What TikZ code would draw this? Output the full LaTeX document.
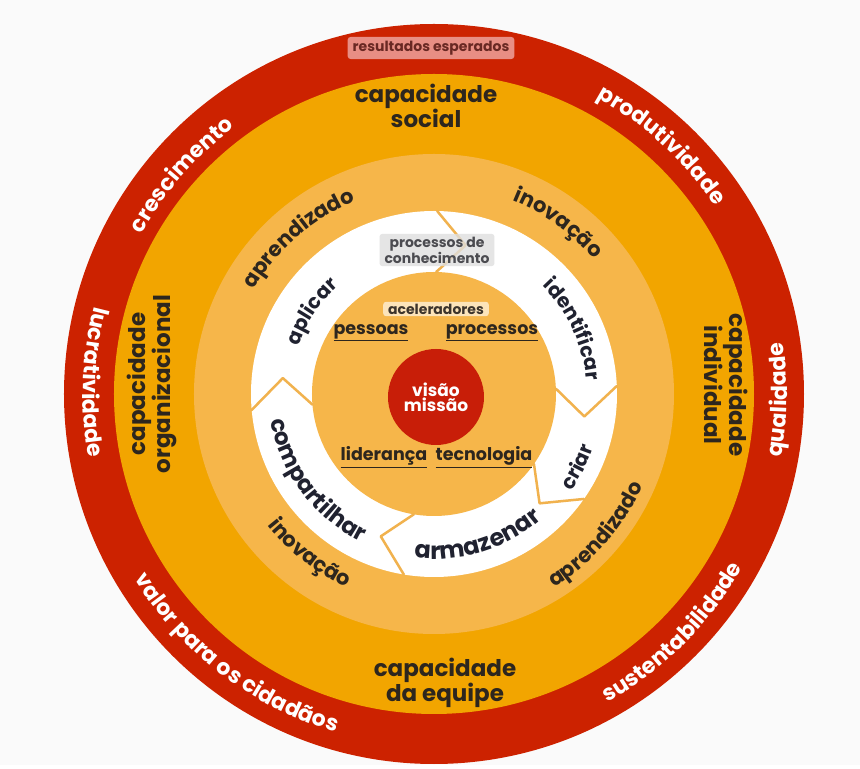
\documentclass[tikz,border=0pt]{standalone}
\usepackage{fontspec}
\setmainfont{Poppins}
\usetikzlibrary{decorations.text}
\definecolor{ringred}{RGB}{204,34,0}
\definecolor{ringorange}{RGB}{242,165,0}
\definecolor{ringlight}{RGB}{246,182,74}
\definecolor{coredot}{RGB}{200,30,8}
\definecolor{inkdark}{RGB}{45,38,30}
\definecolor{inknavy}{RGB}{32,34,48}
\definecolor{chevline}{RGB}{241,178,78}
\definecolor{pinkbox}{RGB}{232,142,132}
\definecolor{paper}{RGB}{250,250,250}
\newcommand\outerfont{\bfseries\fontsize{22}{22}\selectfont}
\newcommand\midfont{\bfseries\fontsize{21}{21}\selectfont}
\begin{document}
\begin{tikzpicture}[x=1pt, y=1pt, line join=round, line cap=round,
  chevron/.style={draw=chevline, line width=2.5pt},
  capnode/.style={text=inkdark, align=center, font=\bfseries\fontsize{23}{21}\selectfont},
  tagbox/.style={rounded corners=3pt, inner xsep=5pt, inner ysep=3pt, align=center},
  accel/.style={text=inkdark, font=\bfseries\fontsize{17.5}{17.5}\selectfont}]
	\fill[paper] (-434,-371) rectangle (426,394);
	% rings
	\fill[ringred] (0,0) circle (370);
	\fill[ringorange] (0,0) circle (320);
	\fill[ringlight] (0,0) circle (240);
	\fill[white] (0,0) circle (183);
	\fill[ringlight] (0,0) circle (122);
	% cycle arrows
	\foreach \b in {89,2.5,-35,-99.5,185}
		\draw[chevron] (\b:122) -- (\b-11:152) -- (\b:183);
	% outer ring
	\foreach \a/\r/\t in {139/333/crescimento, 47.5/338/produtividade}
		\path[decorate, decoration={text along path, text align=center, text color=white,
			text/.expanded={|\noexpand\outerfont|\t}}]
			(\a+45:\r) arc[start angle=\a+45, end angle=\a-45, radius=\r];
	\foreach \a/\r/\t in {-1/353/qualidade, -45/354/sustentabilidade, 232.7/352/valor para os cidadãos, 178/351/lucratividade}
		\path[decorate, decoration={text along path, text align=center, text color=white,
			text/.expanded={|\noexpand\outerfont|\t}}]
			(\a-45:\r) arc[start angle=\a-45, end angle=\a+45, radius=\r];
	\node[tagbox, fill=pinkbox, text={rgb,255:red,105;green,40;blue,35}, inner ysep=4pt,
		font=\bfseries\fontsize{14}{14}\selectfont] (goal) at (-3,346) {resultados esperados};
	% capacities
	\node[capnode] (social) at (-8,288) {capacidade\\social};
	\node[capnode] (team) at (11,-289) {capacidade\\da equipe};
	\node[capnode, rotate=-90] (indiv) at (292,9) {capacidade\\individual};
	\node[capnode, rotate=90] (org) at (-282,10) {capacidade\\organizacional};
	% learning ring
	\foreach \a/\r/\t in {131/208/aprendizado, 54/209/inovação}
		\path[decorate, decoration={text along path, text align=center, text color=inkdark,
			text/.expanded={|\noexpand\midfont|\t}}]
			(\a+50:\r) arc[start angle=\a+50, end angle=\a-50, radius=\r];
	\foreach \a/\r/\t in {-41/228/aprendizado, 232/212/inovação}
		\path[decorate, decoration={text along path, text align=center, text color=inkdark,
			text/.expanded={|\noexpand\midfont|\t}}]
			(\a-50:\r) arc[start angle=\a-50, end angle=\a+50, radius=\r];
	% knowledge processes
	\foreach \a/\r/\s/\t in {146/144/20/aplicar, 25/153/20/identificar}
		\path[decorate, decoration={text along path, text align=center, text color=inknavy,
			text/.expanded={|\noexpand\bfseries\noexpand\fontsize{\s}{\s}\noexpand\selectfont|\t}}]
			(\a+55:\r) arc[start angle=\a+55, end angle=\a-55, radius=\r];
	\foreach \a/\r/\s/\t in {-27/168/20/criar, -73/165/24/armazenar, 216.5/165/23/compartilhar}
		\path[decorate, decoration={text along path, text align=center, text color=inknavy,
			text/.expanded={|\noexpand\bfseries\noexpand\fontsize{\s}{\s}\noexpand\selectfont|\t}}]
			(\a-55:\r) arc[start angle=\a-55, end angle=\a+55, radius=\r];
	\node[tagbox, fill=gray!25, fill opacity=0.8, text opacity=1, text={rgb,255:red,75;green,75;blue,80},
		font=\bfseries\fontsize{14}{12}\selectfont] (kproc) at (3,144) {processos de\\conhecimento};
	% accelerators
	\node[tagbox, fill={rgb,255:red,252;green,228;blue,186}, text={rgb,255:red,60;green,52;blue,44},
		font=\bfseries\fontsize{14}{14}\selectfont, inner ysep=2pt] (acc) at (2,85) {aceleradores};
	\node[accel] (people) at (-63,61) {\underline{pessoas}};
	\node[accel] (procs) at (58,61) {\underline{processos}};
	\node[accel] (lead) at (-50,-63) {\underline{liderança}};
	\node[accel] (tech) at (50,-63) {\underline{tecnologia}};
	% vision
	\node[circle, fill=coredot, minimum size=96pt, text=white, align=center,
		font=\bfseries\fontsize{17}{15}\selectfont] (core) at (2,-3) {visão\\missão};
\end{tikzpicture}
\end{document}
